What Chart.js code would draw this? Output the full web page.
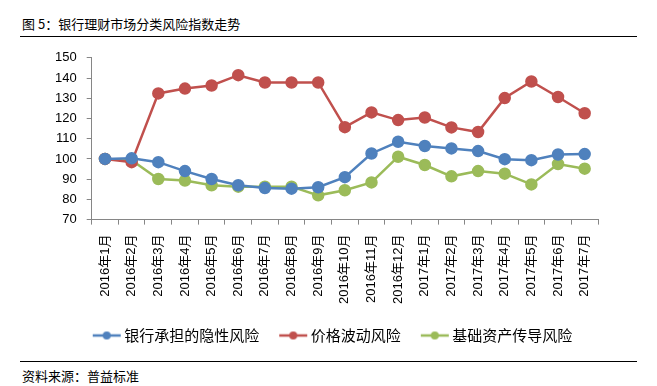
<!DOCTYPE html>
<html>
<head>
<meta charset="utf-8">
<script src="https://cdn.jsdelivr.net/npm/chart.js@4"></script>
<style>
  body { margin: 0; background: #fff; font-family: "Noto Sans CJK SC", sans-serif; }
  #wrap { position: relative; width: 657px; height: 386px; }
  #title { position: absolute; left: 22px; top: 14px; font-size: 13px; color: #000; }
  #topline { position: absolute; left: 20px; top: 36px; width: 617px; height: 1px; background: #000; }
  #chartBox { position: absolute; left: 0; top: 40px; width: 657px; height: 313px; }
  #botline { position: absolute; left: 20px; top: 361px; width: 617px; height: 1px; background: #000; }
  #source { position: absolute; left: 22px; top: 366px; font-size: 13px; color: #000; }
</style>
</head>
<body>
<div id="wrap">
  <div id="title">图 5：银行理财市场分类风险指数走势</div>
  <div id="topline"></div>
  <div id="chartBox"><canvas id="riskChart"></canvas></div>
  <div id="botline"></div>
  <div id="source">资料来源：普益标准</div>
</div>
<script>
const months = [
  "2016年1月", "2016年2月", "2016年3月", "2016年4月", "2016年5月", "2016年6月",
  "2016年7月", "2016年8月", "2016年9月", "2016年10月", "2016年11月", "2016年12月",
  "2017年1月", "2017年2月", "2017年3月", "2017年4月", "2017年5月", "2017年6月", "2017年7月",
];
const hiddenRisk = [100, 100.3, 98.4, 94, 90.1, 87, 85.6, 85.3, 86, 91, 102.7, 108.5, 106.4, 105.2, 103.9, 99.9, 99.4, 102.2, 102.4];
const priceRisk = [100, 98.4, 132.4, 134.8, 136.3, 141.4, 137.8, 137.8, 137.8, 115.7, 123, 119.2, 120.5, 115.6, 113.3, 130.1, 138.3, 130.6, 122.6];
const baseRisk = [100, 99.4, 90.1, 89.3, 87, 86.3, 86.3, 86.3, 82, 84.5, 88.4, 101.1, 97, 91.4, 94, 92.7, 87.4, 97.5, 95.2];
const yTicks = [70, 80, 90, 100, 110, 120, 130, 140, 150];

const seriesNames = ["银行承担的隐性风险", "价格波动风险", "基础资产传导风险"];
const colors = ["#4F81BD", "#C0504D", "#9BBB59"];

// legend symbol: short line with a dot, shifted right inside a wider image
function legendIcon(color) {
  const c = document.createElement("canvas");
  c.width = 40;
  c.height = 10;
  const g = c.getContext("2d");
  g.strokeStyle = color;
  g.lineWidth = 2.5;
  g.beginPath();
  g.moveTo(11, 5);
  g.lineTo(39, 5);
  g.stroke();
  g.fillStyle = color;
  g.beginPath();
  g.arc(25, 5, 4, 0, Math.PI * 2);
  g.fill();
  return c;
}

// nudge the legend a little to the right, like the original
const legendShift = {
  id: "legendShift",
  afterLayout(chart) {
    if (chart.legend) {
      chart.legend.left += 8;
      chart.legend.right += 8;
    }
  },
};

const fontFamily = "'Liberation Sans', 'Noto Sans CJK SC', sans-serif";
const cjkFont = "'Noto Sans CJK SC', sans-serif";

const datasets = [hiddenRisk, priceRisk, baseRisk].map((vals, i) => ({
  label: seriesNames[i],
  data: vals,
  borderColor: colors[i],
  backgroundColor: colors[i],
  pointBackgroundColor: colors[i],
  pointBorderColor: colors[i],
  borderWidth: 2.5,
  pointRadius: 5,
  tension: 0,
}));

const ctx = document.getElementById("riskChart").getContext("2d");

new Chart(ctx, {
  type: "line",
  data: { labels: months, datasets: datasets },
  plugins: [legendShift],
  options: {
    responsive: true,
    maintainAspectRatio: false,
    animation: false,
    layout: { padding: { left: 45, right: 59, top: 9, bottom: 0 } },
    scales: {
      x: {
        offset: true,
        grid: {
          offset: true,
          drawOnChartArea: false,
          tickLength: 5,
          color: "#868686",
        },
        border: { color: "#868686", width: 1 },
        ticks: {
          maxRotation: 90,
          minRotation: 90,
          autoSkip: false,
          color: "#000",
          padding: 10,
          font: { family: fontFamily, size: 13 },
        },
      },
      y: {
        min: 70,
        max: 150,
        afterBuildTicks: (axis) => {
          axis.ticks = yTicks.map((v) => ({ value: v }));
        },
        grid: {
          drawOnChartArea: false,
          tickLength: 5,
          color: "#868686",
        },
        border: { color: "#868686", width: 1 },
        ticks: {
          color: "#000",
          padding: 10,
          font: { family: fontFamily, size: 13 },
        },
      },
    },
    plugins: {
      legend: {
        position: "bottom",
        labels: {
          usePointStyle: true,
          pointStyleWidth: 30,
          color: "#000",
          padding: 14,
          font: { family: cjkFont, size: 15 },
          generateLabels: (chart) =>
            chart.data.datasets.map((ds, i) => ({
              text: ds.label,
              pointStyle: legendIcon(colors[i]),
              fillStyle: colors[i],
              strokeStyle: colors[i],
              lineWidth: 0,
              datasetIndex: i,
              fontColor: "#000",
            })),
        },
      },
      tooltip: { enabled: false },
    },
  },
});
</script>
</body>
</html>
